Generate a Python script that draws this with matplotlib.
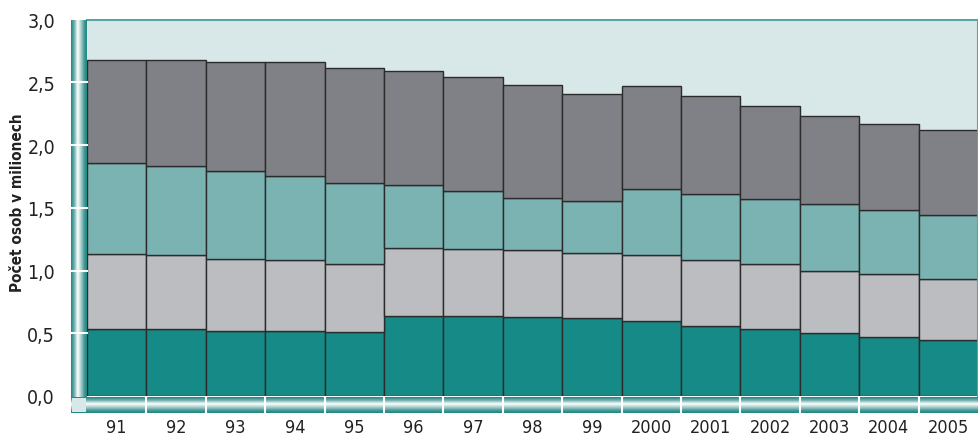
import numpy as np
import matplotlib
matplotlib.use("Agg")
import matplotlib.pyplot as plt
from matplotlib.colors import LinearSegmentedColormap

plt.rcParams['font.family'] = ['Liberation Sans Narrow', 'DejaVu Sans']
plt.rcParams['font.stretch'] = 'condensed'

years = ["91", "92", "93", "94", "95", "96", "97", "98", "99",
         "2000", "2001", "2002", "2003", "2004", "2005"]
# segment values (mil. osob), bottom -> top
seg1 = [0.53, 0.53, 0.52, 0.52, 0.51, 0.64, 0.64, 0.63, 0.62, 0.60, 0.56, 0.53, 0.50, 0.47, 0.45]
seg2 = [0.60, 0.59, 0.57, 0.56, 0.54, 0.54, 0.53, 0.53, 0.52, 0.52, 0.52, 0.52, 0.50, 0.50, 0.48]
seg3 = [0.73, 0.71, 0.70, 0.67, 0.65, 0.50, 0.46, 0.42, 0.41, 0.53, 0.53, 0.52, 0.53, 0.51, 0.51]
seg4 = [0.82, 0.85, 0.87, 0.91, 0.91, 0.91, 0.91, 0.90, 0.86, 0.82, 0.78, 0.74, 0.70, 0.69, 0.68]
colors = ["#168a87", "#bcbdc1", "#7ab3b1", "#808186"]

W, H = 979, 439
fig = plt.figure(figsize=(W / 100, H / 100), dpi=100)

def fx(px):
    return px / W

def fy(py):
    return (H - py) / H

x0, x1, ytop, ybot = 87, 978, 20.5, 397
ax = fig.add_axes([fx(x0), fy(ybot), fx(x1 - x0), (ybot - ytop) / H])
ax.set_facecolor("#d8e8e8")

x = np.arange(len(years))
bottom = np.zeros(len(years))
for seg, c in zip([seg1, seg2, seg3, seg4], colors):
    ax.bar(x, seg, width=1.0, bottom=bottom, color=c, edgecolor="#2b2b2b", linewidth=1.0)
    bottom += np.array(seg)

ax.set_xlim(-0.5, len(years) - 0.5)
ax.set_ylim(0, 3.0)
ax.set_yticks(np.arange(0, 3.01, 0.5))
ax.set_yticklabels([f"{v:.1f}".replace(".", ",") for v in np.arange(0, 3.01, 0.5)])
ax.set_xticks(x)
ax.set_xticklabels(years)
ax.tick_params(axis="y", length=0, pad=23, labelsize=14, labelcolor="#222222")
ax.tick_params(axis="x", length=0, pad=16, labelsize=13, labelcolor="#222222")
for s in ["left", "bottom"]:
    ax.spines[s].set_visible(False)
for s in ["top", "right"]:
    ax.spines[s].set_color("#5aa5a2")
    ax.spines[s].set_linewidth(1.5)

# cylinder-like frame bars
cmap = LinearSegmentedColormap.from_list(
    "cyl", [(0, "#1f8683"), (0.2, "#6fb0ad"), (0.42, "#ffffff"),
            (0.6, "#b7d6d4"), (0.85, "#3f9794"), (1, "#1f8683")])
grad = np.linspace(0, 1, 64)

lb = fig.add_axes([fx(71), fy(414), fx(16), (414 - ytop) / H])
lb.imshow(grad[np.newaxis, :], aspect="auto", cmap=cmap)
lb.set_axis_off()

bb = fig.add_axes([fx(71), fy(414), fx(x1 - 71), 16 / H])
bb.imshow(grad[:, np.newaxis], aspect="auto", cmap=cmap)
bb.set_axis_off()

cs = fig.add_axes([fx(72), fy(413), fx(14), 14 / H])
cs.set_facecolor("#d8e8e8")
cs.set_xticks([])
cs.set_yticks([])
for s in cs.spines.values():
    s.set_visible(False)

# white tick marks on the frame bars
for v in np.arange(0.5, 3.0, 0.5):
    py = ybot - v * (ybot - ytop) / 3.0
    fig.add_artist(plt.Line2D([fx(71), fx(87)], [fy(py), fy(py)], color="white", lw=1.5))
for i in range(1, len(years)):
    px = x0 + i * (x1 - x0) / len(years)
    fig.add_artist(plt.Line2D([fx(px), fx(px)], [fy(398), fy(414)], color="white", lw=1.5))

fig.text(fx(18), fy(203), "Počet osob v milionech", rotation=90, ha="center", va="center",
         fontsize=11, fontweight="bold", color="#222222")

fig.savefig("out.png", dpi=100)
